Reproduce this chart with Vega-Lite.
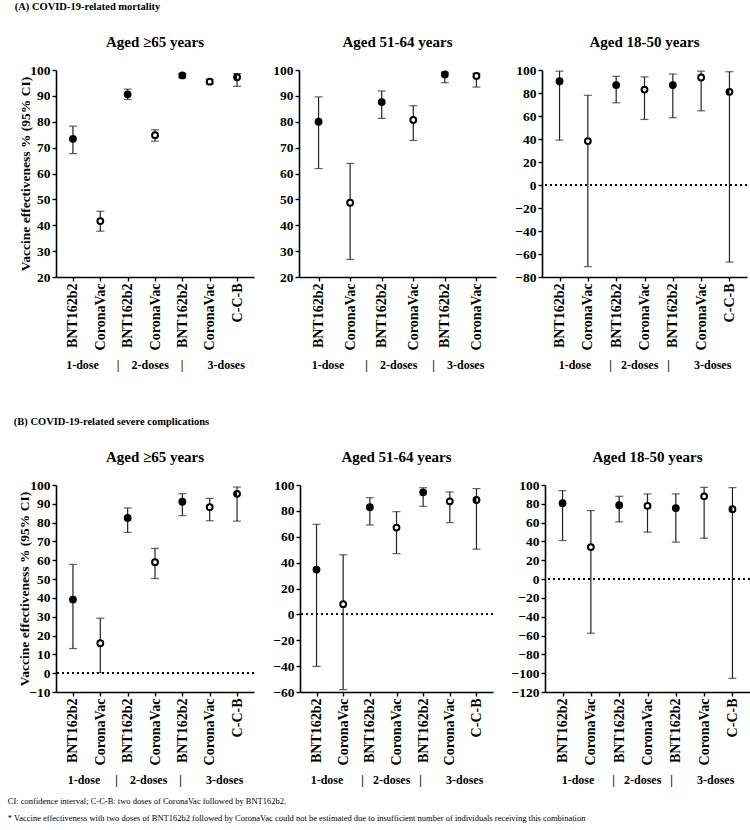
{
  "$schema": "https://vega.github.io/schema/vega-lite/v6.json",
  "background": "white",
  "padding": {"left": 7, "top": 1, "right": 0, "bottom": 0},
  "config": {
    "font": "Liberation Serif",
    "view": {"stroke": null},
    "axis": {"labelFont": "Liberation Serif", "labelFontWeight": "bold", "labelFontSize": 13.5, "labelColor": "black", "titleFont": "Liberation Serif", "titleFontWeight": "bold", "titleColor": "black", "domainColor": "black", "domainWidth": 1.6, "tickColor": "black", "tickWidth": 1.4, "tickSize": 4, "labelPadding": 2, "grid": false, "labelOverlap": false},
    "axisX": {"labelAngle": -90, "labelFontSize": 14, "titleFontSize": 12, "titlePadding": 10},
    "axisY": {"titleFontSize": 13.5, "titlePadding": -3, "tickCount": 40},
    "title": {"font": "Liberation Serif", "fontWeight": "bold", "fontSize": 15, "color": "black", "offset": 13},
    "concat": {"spacing": 18}
  },
  "datasets": {
    "a1": [
      {"k": "1 BNT162b2", "v": "BNT162b2", "est": 73.4, "lo": 67.7, "hi": 78.3},
      {"k": "1 CoronaVac", "v": "CoronaVac", "est": 41.6, "lo": 37.7, "hi": 45.4},
      {"k": "2 BNT162b2", "v": "BNT162b2", "est": 90.6, "lo": 88.6, "hi": 92.6},
      {"k": "2 CoronaVac", "v": "CoronaVac", "est": 74.8, "lo": 72.5, "hi": 76.9},
      {"k": "3 BNT162b2", "v": "BNT162b2", "est": 97.9, "lo": 97.0, "hi": 98.6},
      {"k": "3 CoronaVac", "v": "CoronaVac", "est": 95.5, "lo": 94.6, "hi": 96.4},
      {"k": "3 C-C-B", "v": "C-C-B", "est": 97.2, "lo": 93.7, "hi": 98.6}
    ],
    "a2": [
      {"k": "1 BNT162b2", "v": "BNT162b2", "est": 80.0, "lo": 61.9, "hi": 89.6},
      {"k": "1 CoronaVac", "v": "CoronaVac", "est": 48.7, "lo": 26.8, "hi": 63.9},
      {"k": "2 BNT162b2", "v": "BNT162b2", "est": 87.6, "lo": 81.3, "hi": 91.9},
      {"k": "2 CoronaVac", "v": "CoronaVac", "est": 80.7, "lo": 72.8, "hi": 86.2},
      {"k": "3 BNT162b2", "v": "BNT162b2", "est": 98.3, "lo": 95.1, "hi": 99.1},
      {"k": "3 CoronaVac", "v": "CoronaVac", "est": 97.7, "lo": 93.4, "hi": 98.7}
    ],
    "a3": [
      {"k": "1 BNT162b2", "v": "BNT162b2", "est": 90.2, "lo": 39.0, "hi": 99.0},
      {"k": "1 CoronaVac", "v": "CoronaVac", "est": 38.2, "lo": -71.0, "hi": 78.0},
      {"k": "2 BNT162b2", "v": "BNT162b2", "est": 86.9, "lo": 71.5, "hi": 94.5},
      {"k": "2 CoronaVac", "v": "CoronaVac", "est": 83.0, "lo": 57.0, "hi": 94.0},
      {"k": "3 BNT162b2", "v": "BNT162b2", "est": 86.9, "lo": 58.5, "hi": 96.5},
      {"k": "3 CoronaVac", "v": "CoronaVac", "est": 93.5, "lo": 64.5, "hi": 99.0},
      {"k": "3 C-C-B", "v": "C-C-B", "est": 81.0, "lo": -67.0, "hi": 98.5}
    ],
    "b1": [
      {"k": "1 BNT162b2", "v": "BNT162b2", "est": 39.1, "lo": 13.1, "hi": 57.8},
      {"k": "1 CoronaVac", "v": "CoronaVac", "est": 15.9, "lo": 0.3, "hi": 29.2},
      {"k": "2 BNT162b2", "v": "BNT162b2", "est": 82.5, "lo": 74.8, "hi": 87.8},
      {"k": "2 CoronaVac", "v": "CoronaVac", "est": 59.0, "lo": 50.3, "hi": 66.3},
      {"k": "3 BNT162b2", "v": "BNT162b2", "est": 91.1, "lo": 83.7, "hi": 95.4},
      {"k": "3 CoronaVac", "v": "CoronaVac", "est": 88.2, "lo": 81.0, "hi": 92.9},
      {"k": "3 C-C-B", "v": "C-C-B", "est": 95.3, "lo": 80.8, "hi": 98.9}
    ],
    "b2": [
      {"k": "1 BNT162b2", "v": "BNT162b2", "est": 34.6, "lo": -40.2, "hi": 69.6},
      {"k": "1 CoronaVac", "v": "CoronaVac", "est": 7.9, "lo": -58.2, "hi": 46.0},
      {"k": "2 BNT162b2", "v": "BNT162b2", "est": 82.8, "lo": 69.1, "hi": 90.2},
      {"k": "2 CoronaVac", "v": "CoronaVac", "est": 67.1, "lo": 47.0, "hi": 79.4},
      {"k": "3 BNT162b2", "v": "BNT162b2", "est": 94.3, "lo": 83.5, "hi": 97.9},
      {"k": "3 CoronaVac", "v": "CoronaVac", "est": 87.4, "lo": 70.9, "hi": 94.6},
      {"k": "3 C-C-B", "v": "C-C-B", "est": 88.4, "lo": 50.4, "hi": 97.2}
    ],
    "b3": [
      {"k": "1 BNT162b2", "v": "BNT162b2", "est": 80.6, "lo": 41.0, "hi": 94.0},
      {"k": "1 CoronaVac", "v": "CoronaVac", "est": 34.0, "lo": -57.5, "hi": 72.8},
      {"k": "2 BNT162b2", "v": "BNT162b2", "est": 78.5, "lo": 60.8, "hi": 88.0},
      {"k": "2 CoronaVac", "v": "CoronaVac", "est": 77.8, "lo": 49.9, "hi": 90.5},
      {"k": "3 BNT162b2", "v": "BNT162b2", "est": 75.5, "lo": 39.3, "hi": 90.5},
      {"k": "3 CoronaVac", "v": "CoronaVac", "est": 88.0, "lo": 43.5, "hi": 97.5},
      {"k": "3 C-C-B", "v": "C-C-B", "est": 74.3, "lo": -105.5, "hi": 97.2}
    ]
  },
  "title": {"text": ["CI: confidence interval; C-C-B: two doses of CoronaVac followed by BNT162b2.", "* Vaccine effectiveness with two doses of BNT162b2 followed by CoronaVac could not be estimated due to insufficient number of individuals receiving this combination"], "orient": "bottom", "anchor": "start", "fontWeight": "normal", "fontSize": 8.5, "lineHeight": 17, "offset": 11, "dx": -6},
  "vconcat": [
    {
      "title": {"text": "(A)  COVID-19-related mortality", "anchor": "start", "fontSize": 10.5, "offset": 23, "dx": -4},
      "spacing": 18,
      "hconcat": [
        {
          "title": "Aged ≥65 years",
          "width": 198, "height": 207,
          "data": {"name": "a1"},
          "layer": [
            {"mark": {"type": "rule", "color": "#222", "strokeWidth": 1.2},
             "encoding": {
               "x": {"field": "k", "type": "nominal", "sort": null, "scale": {"type": "point", "padding": 0.62, "domain": ["1 BNT162b2", "1 CoronaVac", "2 BNT162b2", "2 CoronaVac", "3 BNT162b2", "3 CoronaVac", "3 C-C-B"]}, "axis": {"labelExpr": "slice(datum.label, 2)", "title": "1-dose\u00a0\u00a0\u00a0\u00a0\u00a0\u00a0|\u00a0\u00a0\u00a0\u00a02-doses\u00a0\u00a0\u00a0\u00a0|\u00a0\u00a0\u00a0\u00a0\u00a0\u00a0\u00a0\u00a03-doses"}},
               "y": {"field": "lo", "type": "quantitative", "scale": {"domain": [20, 100], "nice": false}, "axis": {"values": [20, 30, 40, 50, 60, 70, 80, 90, 100], "tickCount": 40, "title": "Vaccine effectiveness % (95% CI)"}},
               "y2": {"field": "hi"}}},
            {"mark": {"type": "tick", "color": "#222", "size": 8, "thickness": 1.2},
             "encoding": {"x": {"field": "k", "type": "nominal", "sort": null}, "y": {"field": "lo", "type": "quantitative"}}},
            {"mark": {"type": "tick", "color": "#222", "size": 8, "thickness": 1.2},
             "encoding": {"x": {"field": "k", "type": "nominal", "sort": null}, "y": {"field": "hi", "type": "quantitative"}}},
            {"mark": {"type": "point", "shape": "circle", "filled": true, "size": 34, "stroke": "black", "strokeWidth": 2, "opacity": 1},
             "encoding": {"x": {"field": "k", "type": "nominal", "sort": null}, "y": {"field": "est", "type": "quantitative"},
               "fill": {"field": "v", "type": "nominal", "scale": {"domain": ["BNT162b2", "CoronaVac", "C-C-B"], "range": ["black", "white", "white"]}, "legend": null}}},
            {"transform": [{"filter": "datum.v === 'C-C-B'"}],
             "mark": {"type": "point", "shape": "M0,-1A1,1 0 0,0 0,1Z", "filled": true, "color": "black", "size": 34, "opacity": 1},
             "encoding": {"x": {"field": "k", "type": "nominal", "sort": null}, "y": {"field": "est", "type": "quantitative"}}}
          ]
        },
        {
          "title": "Aged 51-64 years",
          "width": 197, "height": 207,
          "data": {"name": "a2"},
          "layer": [
            {"mark": {"type": "rule", "color": "#222", "strokeWidth": 1.2},
             "encoding": {
               "x": {"field": "k", "type": "nominal", "sort": null, "scale": {"type": "point", "padding": 0.62, "domain": ["1 BNT162b2", "1 CoronaVac", "2 BNT162b2", "2 CoronaVac", "3 BNT162b2", "3 CoronaVac"]}, "axis": {"labelExpr": "slice(datum.label, 2)", "title": "1-dose\u00a0\u00a0\u00a0\u00a0\u00a0\u00a0\u00a0|\u00a0\u00a0\u00a0\u00a02-doses\u00a0\u00a0\u00a0\u00a0\u00a0|\u00a0\u00a0\u00a0\u00a03-doses"}},
               "y": {"field": "lo", "type": "quantitative", "scale": {"domain": [20, 100], "nice": false}, "axis": {"values": [20, 30, 40, 50, 60, 70, 80, 90, 100], "tickCount": 40, "title": null}},
               "y2": {"field": "hi"}}},
            {"mark": {"type": "tick", "color": "#222", "size": 8, "thickness": 1.2},
             "encoding": {"x": {"field": "k", "type": "nominal", "sort": null}, "y": {"field": "lo", "type": "quantitative"}}},
            {"mark": {"type": "tick", "color": "#222", "size": 8, "thickness": 1.2},
             "encoding": {"x": {"field": "k", "type": "nominal", "sort": null}, "y": {"field": "hi", "type": "quantitative"}}},
            {"mark": {"type": "point", "shape": "circle", "filled": true, "size": 34, "stroke": "black", "strokeWidth": 2, "opacity": 1},
             "encoding": {"x": {"field": "k", "type": "nominal", "sort": null}, "y": {"field": "est", "type": "quantitative"},
               "fill": {"field": "v", "type": "nominal", "scale": {"domain": ["BNT162b2", "CoronaVac", "C-C-B"], "range": ["black", "white", "white"]}, "legend": null}}}
          ]
        },
        {
          "title": "Aged 18-50 years",
          "width": 205, "height": 207,
          "data": {"name": "a3"},
          "layer": [
            {"mark": {"type": "rule", "color": "#222", "strokeWidth": 1.2},
             "encoding": {
               "x": {"field": "k", "type": "nominal", "sort": null, "scale": {"type": "point", "padding": 0.62, "domain": ["1 BNT162b2", "1 CoronaVac", "2 BNT162b2", "2 CoronaVac", "3 BNT162b2", "3 CoronaVac", "3 C-C-B"]}, "axis": {"labelExpr": "slice(datum.label, 2)", "title": "1-dose\u00a0\u00a0\u00a0\u00a0\u00a0\u00a0|\u00a0\u00a0\u00a02-doses\u00a0\u00a0\u00a0|\u00a0\u00a0\u00a0\u00a0\u00a0\u00a0\u00a0\u00a03-doses"}},
               "y": {"field": "lo", "type": "quantitative", "scale": {"domain": [-80, 100], "nice": false}, "axis": {"values": [-80, -60, -40, -20, 0, 20, 40, 60, 80, 100], "tickCount": 40, "title": null}},
               "y2": {"field": "hi"}}},
            {"mark": {"type": "rule", "color": "black", "strokeWidth": 1.3, "strokeDash": [2, 3]},
             "encoding": {"y": {"datum": 0, "type": "quantitative"}}},
            {"mark": {"type": "tick", "color": "#222", "size": 8, "thickness": 1.2},
             "encoding": {"x": {"field": "k", "type": "nominal", "sort": null}, "y": {"field": "lo", "type": "quantitative"}}},
            {"mark": {"type": "tick", "color": "#222", "size": 8, "thickness": 1.2},
             "encoding": {"x": {"field": "k", "type": "nominal", "sort": null}, "y": {"field": "hi", "type": "quantitative"}}},
            {"mark": {"type": "point", "shape": "circle", "filled": true, "size": 34, "stroke": "black", "strokeWidth": 2, "opacity": 1},
             "encoding": {"x": {"field": "k", "type": "nominal", "sort": null}, "y": {"field": "est", "type": "quantitative"},
               "fill": {"field": "v", "type": "nominal", "scale": {"domain": ["BNT162b2", "CoronaVac", "C-C-B"], "range": ["black", "white", "white"]}, "legend": null}}},
            {"transform": [{"filter": "datum.v === 'C-C-B'"}],
             "mark": {"type": "point", "shape": "M0,-1A1,1 0 0,0 0,1Z", "filled": true, "color": "black", "size": 34, "opacity": 1},
             "encoding": {"x": {"field": "k", "type": "nominal", "sort": null}, "y": {"field": "est", "type": "quantitative"}}}
          ]
        }
      ]
    },
    {
      "title": {"text": "(B)  COVID-19-related severe complications", "anchor": "start", "fontSize": 10.5, "offset": 23, "dx": -4},
      "spacing": 17,
      "hconcat": [
        {
          "title": "Aged ≥65 years",
          "width": 198, "height": 207,
          "data": {"name": "b1"},
          "layer": [
            {"mark": {"type": "rule", "color": "#222", "strokeWidth": 1.2},
             "encoding": {
               "x": {"field": "k", "type": "nominal", "sort": null, "scale": {"type": "point", "padding": 0.62, "domain": ["1 BNT162b2", "1 CoronaVac", "2 BNT162b2", "2 CoronaVac", "3 BNT162b2", "3 CoronaVac", "3 C-C-B"]}, "axis": {"labelExpr": "slice(datum.label, 2)", "title": "1-dose\u00a0\u00a0\u00a0\u00a0\u00a0|\u00a0\u00a0\u00a0\u00a02-doses\u00a0\u00a0\u00a0\u00a0|\u00a0\u00a0\u00a0\u00a0\u00a0\u00a0\u00a0\u00a03-doses"}},
               "y": {"field": "lo", "type": "quantitative", "scale": {"domain": [-10, 100], "nice": false}, "axis": {"values": [-10, 0, 10, 20, 30, 40, 50, 60, 70, 80, 90, 100], "tickCount": 40, "title": "Vaccine effectiveness % (95% CI)"}},
               "y2": {"field": "hi"}}},
            {"mark": {"type": "rule", "color": "black", "strokeWidth": 1.3, "strokeDash": [2, 3]},
             "encoding": {"y": {"datum": 0, "type": "quantitative"}}},
            {"mark": {"type": "tick", "color": "#222", "size": 8, "thickness": 1.2},
             "encoding": {"x": {"field": "k", "type": "nominal", "sort": null}, "y": {"field": "lo", "type": "quantitative"}}},
            {"mark": {"type": "tick", "color": "#222", "size": 8, "thickness": 1.2},
             "encoding": {"x": {"field": "k", "type": "nominal", "sort": null}, "y": {"field": "hi", "type": "quantitative"}}},
            {"mark": {"type": "point", "shape": "circle", "filled": true, "size": 34, "stroke": "black", "strokeWidth": 2, "opacity": 1},
             "encoding": {"x": {"field": "k", "type": "nominal", "sort": null}, "y": {"field": "est", "type": "quantitative"},
               "fill": {"field": "v", "type": "nominal", "scale": {"domain": ["BNT162b2", "CoronaVac", "C-C-B"], "range": ["black", "white", "white"]}, "legend": null}}},
            {"transform": [{"filter": "datum.v === 'C-C-B'"}],
             "mark": {"type": "point", "shape": "M0,-1A1,1 0 0,0 0,1Z", "filled": true, "color": "black", "size": 34, "opacity": 1},
             "encoding": {"x": {"field": "k", "type": "nominal", "sort": null}, "y": {"field": "est", "type": "quantitative"}}}
          ]
        },
        {
          "title": "Aged 51-64 years",
          "width": 193, "height": 207,
          "data": {"name": "b2"},
          "layer": [
            {"mark": {"type": "rule", "color": "#222", "strokeWidth": 1.2},
             "encoding": {
               "x": {"field": "k", "type": "nominal", "sort": null, "scale": {"type": "point", "padding": 0.62, "domain": ["1 BNT162b2", "1 CoronaVac", "2 BNT162b2", "2 CoronaVac", "3 BNT162b2", "3 CoronaVac", "3 C-C-B"]}, "axis": {"labelExpr": "slice(datum.label, 2)", "title": "1-dose\u00a0\u00a0\u00a0\u00a0\u00a0\u00a0|\u00a0\u00a0\u00a02-doses\u00a0\u00a0\u00a0|\u00a0\u00a0\u00a0\u00a0\u00a0\u00a0\u00a0\u00a03-doses"}},
               "y": {"field": "lo", "type": "quantitative", "scale": {"domain": [-60, 100], "nice": false}, "axis": {"values": [-60, -40, -20, 0, 20, 40, 60, 80, 100], "tickCount": 40, "title": null}},
               "y2": {"field": "hi"}}},
            {"mark": {"type": "rule", "color": "black", "strokeWidth": 1.3, "strokeDash": [2, 3]},
             "encoding": {"y": {"datum": 0, "type": "quantitative"}}},
            {"mark": {"type": "tick", "color": "#222", "size": 8, "thickness": 1.2},
             "encoding": {"x": {"field": "k", "type": "nominal", "sort": null}, "y": {"field": "lo", "type": "quantitative"}}},
            {"mark": {"type": "tick", "color": "#222", "size": 8, "thickness": 1.2},
             "encoding": {"x": {"field": "k", "type": "nominal", "sort": null}, "y": {"field": "hi", "type": "quantitative"}}},
            {"mark": {"type": "point", "shape": "circle", "filled": true, "size": 34, "stroke": "black", "strokeWidth": 2, "opacity": 1},
             "encoding": {"x": {"field": "k", "type": "nominal", "sort": null}, "y": {"field": "est", "type": "quantitative"},
               "fill": {"field": "v", "type": "nominal", "scale": {"domain": ["BNT162b2", "CoronaVac", "C-C-B"], "range": ["black", "white", "white"]}, "legend": null}}},
            {"transform": [{"filter": "datum.v === 'C-C-B'"}],
             "mark": {"type": "point", "shape": "M0,-1A1,1 0 0,0 0,1Z", "filled": true, "color": "black", "size": 34, "opacity": 1},
             "encoding": {"x": {"field": "k", "type": "nominal", "sort": null}, "y": {"field": "est", "type": "quantitative"}}}
          ]
        },
        {
          "title": "Aged 18-50 years",
          "width": 205, "height": 207,
          "data": {"name": "b3"},
          "layer": [
            {"mark": {"type": "rule", "color": "#222", "strokeWidth": 1.2},
             "encoding": {
               "x": {"field": "k", "type": "nominal", "sort": null, "scale": {"type": "point", "padding": 0.62, "domain": ["1 BNT162b2", "1 CoronaVac", "2 BNT162b2", "2 CoronaVac", "3 BNT162b2", "3 CoronaVac", "3 C-C-B"]}, "axis": {"labelExpr": "slice(datum.label, 2)", "title": "1-dose\u00a0\u00a0\u00a0\u00a0\u00a0\u00a0|\u00a0\u00a0\u00a02-doses\u00a0\u00a0\u00a0|\u00a0\u00a0\u00a0\u00a0\u00a0\u00a0\u00a0\u00a03-doses"}},
               "y": {"field": "lo", "type": "quantitative", "scale": {"domain": [-120, 100], "nice": false}, "axis": {"values": [-120, -100, -80, -60, -40, -20, 0, 20, 40, 60, 80, 100], "tickCount": 40, "title": null}},
               "y2": {"field": "hi"}}},
            {"mark": {"type": "rule", "color": "black", "strokeWidth": 1.3, "strokeDash": [2, 3]},
             "encoding": {"y": {"datum": 0, "type": "quantitative"}}},
            {"mark": {"type": "tick", "color": "#222", "size": 8, "thickness": 1.2},
             "encoding": {"x": {"field": "k", "type": "nominal", "sort": null}, "y": {"field": "lo", "type": "quantitative"}}},
            {"mark": {"type": "tick", "color": "#222", "size": 8, "thickness": 1.2},
             "encoding": {"x": {"field": "k", "type": "nominal", "sort": null}, "y": {"field": "hi", "type": "quantitative"}}},
            {"mark": {"type": "point", "shape": "circle", "filled": true, "size": 34, "stroke": "black", "strokeWidth": 2, "opacity": 1},
             "encoding": {"x": {"field": "k", "type": "nominal", "sort": null}, "y": {"field": "est", "type": "quantitative"},
               "fill": {"field": "v", "type": "nominal", "scale": {"domain": ["BNT162b2", "CoronaVac", "C-C-B"], "range": ["black", "white", "white"]}, "legend": null}}},
            {"transform": [{"filter": "datum.v === 'C-C-B'"}],
             "mark": {"type": "point", "shape": "M0,-1A1,1 0 0,0 0,1Z", "filled": true, "color": "black", "size": 34, "opacity": 1},
             "encoding": {"x": {"field": "k", "type": "nominal", "sort": null}, "y": {"field": "est", "type": "quantitative"}}}
          ]
        }
      ]
    }
  ],
  "spacing": 45
}
